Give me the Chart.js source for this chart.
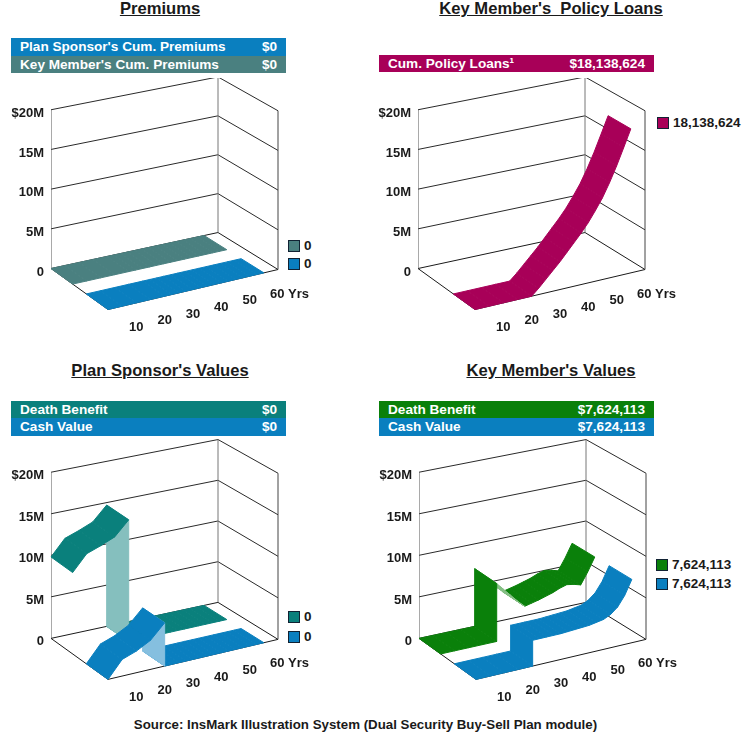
<!DOCTYPE html>
<html>
<head>
<meta charset="utf-8">
<title>InsMark charts</title>
<script src="https://cdn.jsdelivr.net/npm/chart.js@4"></script>
<style>
    html, body { margin: 0; background: #fff; }
    body { position: relative; width: 747px; height: 737px; overflow: hidden; font-family: "Liberation Sans", Arial, sans-serif; font-weight: bold; color: #1a1a1a; }
    canvas { position: absolute; }
    .title { position: absolute; width: 300px; text-align: center; font-size: 16.6px; line-height: 18px; text-decoration: underline; white-space: pre; }
    .band { position: absolute; width: 275px; height: 17.5px; color: #fff; font-size: 13.6px; line-height: 17.5px; }
    .band span { position: absolute; top: 0; }
    .key { position: absolute; width: 10px; height: 10px; border: 1px solid #123; }
    .keytext { position: absolute; font-size: 13.5px; line-height: 14px; }
    #source { position: absolute; left: 0; width: 731px; top: 717px; text-align: center; font-size: 13.3px; line-height: 16px; }
</style>
</head>
<body>
<div id="source">Source: InsMark Illustration System (Dual Security Buy-Sell Plan module)</div>
<script>
    // Chart data, all values in $ millions
    const years = [0, 5, 10, 15, 20, 20, 22.5, 25, 27.5, 30, 32.5, 35, 37.5, 40, 42.5, 45, 47.5, 50, 52.5, 55]; // 20 twice, values jump there
    const sponsorPremiums = [0, 0, 0, 0, 0, 0, 0, 0, 0, 0, 0, 0, 0, 0, 0, 0, 0, 0, 0, 0];
    const keyPremiums = [0, 0, 0, 0, 0, 0, 0, 0, 0, 0, 0, 0, 0, 0, 0, 0, 0, 0, 0, 0];
    const policyLoans = [0, 0, 0, 0, 0, 0, 0.8, 1.7, 2.6, 3.5, 4.5, 5.5, 6.5, 7.6, 8.9, 10.3, 12.0, 13.9, 16.0, 18.14];
    const sponsorDeath = [9.8, 11.7, 12.3, 13.0, 14.7, 0, 0, 0, 0, 0, 0, 0, 0, 0, 0, 0, 0, 0, 0, 0];
    const sponsorCash = [0, 2.0, 2.6, 3.5, 5.2, 0, 0, 0, 0, 0, 0, 0, 0, 0, 0, 0, 0, 0, 0, 0];
    const keyDeath = [0, 0, 0, 0, 0, 7.0, 6.1, 5.2, 4.3, 3.5, 3.7, 3.9, 4.15, 4.4, 4.75, 5.0, 4.85, 4.6, 6.0, 7.62];
    const keyCash = [0, 0, 0, 0, 0, 3.1, 3.1, 3.1, 3.1, 3.1, 3.15, 3.2, 3.25, 3.3, 3.45, 3.6, 4.0, 4.7, 5.9, 7.62];

    const yTicks = [0, 5, 10, 15, 20];
    const yTickLabels = ['0', '5M', '10M', '15M', '$20M'];
    const yearTicks = [10, 20, 30, 40, 50, 60];
    const yearTickLabels = ['10', '20', '30', '40', '50', '60 Yrs'];

    const BLUE = '#0a7fbf';
    const BLUE_LIGHT = '#85bfdf';
    const SLATE = '#4a8080';
    const SLATE_LIGHT = '#a4bfbf';
    const TEAL = '#0a807c';
    const TEAL_LIGHT = '#85bfbe';
    const GREEN = '#0a800a';
    const GREEN_LIGHT = '#85bf85';
    const WINE = '#a80058';
    const WINE_LIGHT = '#d37fab';

    const FRONT_DEPTH = [0, 0.38];
    const BACK_DEPTH = [0.62, 1];

    // Each panel: where it sits, its banner rows, legend rows and ribbons (back one first)
    const panels = [
        {
            left: 0, top: 78, height: 258, titleTop: 0, titleLeft: 10, title: 'Premiums', bandTop: 38, bandLeft: 11,
            bands: [["Plan Sponsor's Cum. Premiums", '$0', BLUE], ["Key Member's Cum. Premiums", '$0', SLATE]],
            keyLeft: 288, keyTops: [240, 258], keys: [['0', SLATE], ['0', BLUE]],
            ribbons: [
                { values: keyPremiums, depth: BACK_DEPTH, color: SLATE, light: SLATE_LIGHT },
                { values: sponsorPremiums, depth: FRONT_DEPTH, color: BLUE, light: BLUE_LIGHT }
            ]
        },
        {
            left: 367, top: 78, height: 258, titleTop: 0, titleLeft: 401, title: "Key Member's  Policy Loans", bandTop: 54.5, bandLeft: 379,
            bands: [['Cum. Policy Loans\u00b9', '$18,138,624', WINE]],
            keyLeft: 657, keyTops: [117], keys: [['18,138,624', WINE]],
            ribbons: [
                { values: policyLoans, depth: FRONT_DEPTH, color: WINE, light: WINE_LIGHT }
            ]
        },
        {
            left: 0, top: 439, height: 270, titleTop: 362, titleLeft: 10, title: "Plan Sponsor's Values", bandTop: 400.5, bandLeft: 11,
            bands: [['Death Benefit', '$0', TEAL], ['Cash Value', '$0', BLUE]],
            keyLeft: 288, keyTops: [611, 631], keys: [['0', TEAL], ['0', BLUE]],
            ribbons: [
                { values: sponsorDeath, depth: BACK_DEPTH, color: TEAL, light: TEAL_LIGHT },
                { values: sponsorCash, depth: FRONT_DEPTH, color: BLUE, light: BLUE_LIGHT }
            ]
        },
        {
            left: 368, top: 439, height: 270, titleTop: 362, titleLeft: 401, title: "Key Member's Values", bandTop: 400.5, bandLeft: 379,
            bands: [['Death Benefit', '$7,624,113', GREEN], ['Cash Value', '$7,624,113', BLUE]],
            keyLeft: 656, keyTops: [559, 578], keys: [['7,624,113', GREEN], ['7,624,113', BLUE]],
            ribbons: [
                { values: keyDeath, depth: BACK_DEPTH, color: GREEN, light: GREEN_LIGHT },
                { values: keyCash, depth: FRONT_DEPTH, color: BLUE, light: BLUE_LIGHT }
            ]
        }
    ];

    const Y_MIN = -8.5;
    const Y_MAX = 24;

    // Bilinear mix over the floor: year goes 0 to 60, depth goes 0 (front) to 1 (back)
    function mix(front, left, right, back, year, depth) {
        const t = year / 60;
        return (front * (1 - t) + right * t) * (1 - depth) + (left * (1 - t) + back * t) * depth;
    }

    // Turns year / value / depth into x (px from left wall) and y ($M on the value axis)
    function project(year, value, depth, pxPerM) {
        return {
            x: mix(57, 0, 227, 167, year, depth),
            y: value * mix(1, 1, 1, 0.98, year, depth) + mix(-41, 0, -1, 36, year, depth) / pxPerM
        };
    }

    function lineDataset(points, color) {
        return { data: points, showLine: true, borderColor: color, borderWidth: 1, pointRadius: 0, tension: 0 };
    }

    function wallDatasets(pxPerM) {
        const sets = [];
        yTicks.slice(1).forEach(v => {
            sets.push(lineDataset([project(0, v, 1, pxPerM), project(60, v, 1, pxPerM), project(60, v, 0, pxPerM)], '#2a2a2a'));
        });
        // floor outline
        sets.push(lineDataset([project(60, 0, 0, pxPerM), project(60, 0, 1, pxPerM), project(0, 0, 1, pxPerM), project(0, 0, 0, pxPerM), project(60, 0, 0, pxPerM)], '#1a1a1a'));
        // wall corners
        sets.push(lineDataset([project(0, 0, 1, pxPerM), project(0, 20, 1, pxPerM)], '#555'));
        sets.push(lineDataset([project(60, 0, 1, pxPerM), project(60, 20, 1, pxPerM)], '#777'));
        sets.push(lineDataset([project(60, 0, 0, pxPerM), project(60, 20, 0, pxPerM)], '#444'));
        return sets;
    }

    // One four-corner dataset per ribbon step, far years first so near ones cover them
    function ribbonDatasets(ribbon, pxPerM) {
        const sets = [];
        for (let i = years.length - 2; i >= 0; i--) {
            const corners = [
                project(years[i], ribbon.values[i], ribbon.depth[1], pxPerM),
                project(years[i], ribbon.values[i], ribbon.depth[0], pxPerM),
                project(years[i + 1], ribbon.values[i + 1], ribbon.depth[0], pxPerM),
                project(years[i + 1], ribbon.values[i + 1], ribbon.depth[1], pxPerM)
            ];
            let area = 0;
            corners.forEach((p, k) => {
                const q = corners[(k + 1) % 4];
                area += p.x * q.y * pxPerM - q.x * p.y * pxPerM;
            });
            if (Math.abs(area) < 0.01) continue;
            // steps that face downward show their lighter underside
            const shade = area > 0 ? ribbon.color : ribbon.light;
            sets.push({ data: corners, showLine: false, pointRadius: 0, quadFill: shade });
        }
        return sets;
    }

    // Fills the four-corner datasets at the pixels the scales gave them
    const quadPlugin = {
        id: 'quadFill',
        beforeDatasetDraw(chart, args) {
            const color = chart.data.datasets[args.index].quadFill;
            if (!color) return;
            const ctx = chart.ctx;
            ctx.save();
            ctx.beginPath();
            args.meta.data.forEach((pt, k) => {
                if (k === 0) ctx.moveTo(pt.x, pt.y);
                else ctx.lineTo(pt.x, pt.y);
            });
            ctx.closePath();
            ctx.fillStyle = color;
            ctx.strokeStyle = color;
            ctx.lineWidth = 1;
            ctx.fill();
            ctx.stroke();
            ctx.restore();
        }
    };

    // Year labels run along the slanted front edge of the floor
    const yearLabelPlugin = {
        id: 'yearLabels',
        afterDraw(chart) {
            const pxPerM = chart.options.plugins.yearLabels.pxPerM;
            const ctx = chart.ctx;
            ctx.save();
            ctx.font = 'bold 13px "Liberation Sans", Arial, sans-serif';
            ctx.fillStyle = '#1a1a1a';
            ctx.textBaseline = 'middle';
            yearTicks.forEach((year, i) => {
                const p = project(year, 0, 0, pxPerM);
                const x = chart.scales.x.getPixelForValue(p.x);
                const y = chart.scales.y.getPixelForValue(p.y) + 24.5;
                const text = yearTickLabels[i];
                ctx.textAlign = text.length > 2 ? 'left' : 'center';
                ctx.fillText(text, text.length > 2 ? x - 8 : x, y);
            });
            ctx.restore();
        }
    };

    function addDiv(className, styles, text) {
        const el = document.createElement('div');
        el.className = className;
        Object.assign(el.style, styles);
        if (text) el.textContent = text;
        document.body.appendChild(el);
        return el;
    }

    function drawText(panel) {
        addDiv('title', { left: panel.titleLeft + 'px', top: panel.titleTop + 'px' }, panel.title);
        panel.bands.forEach((row, i) => {
            const band = addDiv('band', { left: panel.bandLeft + 'px', top: panel.bandTop + i * 17.5 + 'px', background: row[2] });
            band.innerHTML = '<span style="left:9px"></span><span style="right:9px"></span>';
            band.children[0].textContent = row[0];
            band.children[1].textContent = row[1];
        });
        panel.keys.forEach((row, i) => {
            addDiv('key', { left: panel.keyLeft + 'px', top: panel.keyTops[i] + 'px', background: row[1] });
            addDiv('keytext', { left: panel.keyLeft + 16 + 'px', top: panel.keyTops[i] - 1 + 'px' }, row[0]);
        });
    }

    function drawPanel(panel) {
        drawText(panel);

        const canvas = document.createElement('canvas');
        canvas.style.left = panel.left + 'px';
        canvas.style.top = panel.top + 'px';
        canvas.width = 351;
        canvas.height = panel.height;
        document.body.appendChild(canvas);

        const pxPerM = panel.height / (Y_MAX - Y_MIN);
        let datasets = wallDatasets(pxPerM);
        panel.ribbons.forEach(r => { datasets = datasets.concat(ribbonDatasets(r, pxPerM)); });
        // earlier datasets go underneath
        datasets.forEach((d, i) => { d.order = -i; });

        new Chart(canvas, {
            type: 'scatter',
            data: { datasets: datasets },
            plugins: [quadPlugin, yearLabelPlugin],
            options: {
                responsive: false,
                animation: false,
                events: [],
                layout: { padding: 0, autoPadding: false },
                plugins: {
                    legend: { display: false },
                    tooltip: { enabled: false },
                    yearLabels: { pxPerM: pxPerM }
                },
                scales: {
                    x: { type: 'linear', display: false, min: 0, max: 300 },
                    y: {
                        type: 'linear',
                        min: Y_MIN,
                        max: Y_MAX,
                        afterFit(axis) { axis.width = 51; axis.paddingTop = 0; axis.paddingBottom = 0; },
                        afterBuildTicks(axis) { axis.ticks = yTicks.map(v => ({ value: v })); },
                        grid: { display: false, drawTicks: false },
                        border: { display: false },
                        ticks: {
                            autoSkip: false,
                            padding: 7,
                            labelOffset: 3.5,
                            color: '#1a1a1a',
                            font: { family: '"Liberation Sans", Arial, sans-serif', size: 13, weight: 'bold' },
                            callback: (value, index) => yTickLabels[index]
                        }
                    }
                }
            }
        });
    }

    panels.forEach(drawPanel);
</script>
</body>
</html>
